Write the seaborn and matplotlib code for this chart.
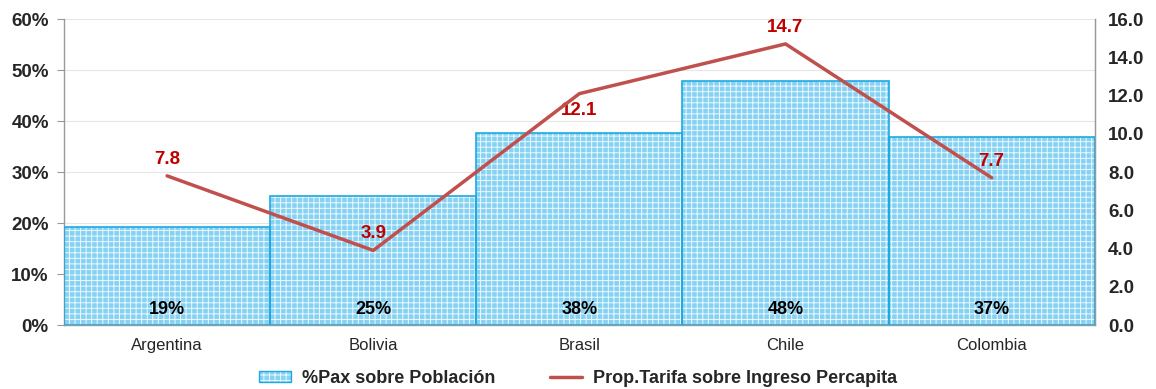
import matplotlib
matplotlib.use("Agg")
import matplotlib.pyplot as plt
import seaborn as sns
import pandas as pd
from matplotlib.patches import Patch
from matplotlib.lines import Line2D
from matplotlib.ticker import FuncFormatter
from matplotlib.colors import to_rgba

sns.set_style("white")
plt.rcParams["font.family"] = ["Liberation Sans", "DejaVu Sans"]
plt.rcParams["hatch.linewidth"] = 0.7
plt.rcParams["hatch.color"] = "white"

countries = ["Argentina", "Bolivia", "Brasil", "Chile", "Colombia"]
pax_pct = [19.2, 25.3, 37.6, 47.9, 36.9]
pax_labels = ["19%", "25%", "38%", "48%", "37%"]
tarifa = [7.8, 3.9, 12.1, 14.7, 7.7]
tarifa_label_dy = [12, 12, -12, 12, 12]

df = pd.DataFrame({"pais": countries, "pax": pax_pct, "tarifa": tarifa})

fig = plt.figure(figsize=(11.56, 3.89), dpi=100)
ax = fig.add_axes([0.0554, 0.1645, 0.8916, 0.7865])

fill_col = "#86d2f3"
edge_col = "#1fa9e1"
grid_white = to_rgba("white", 0.85)

# hatched fill: white grid over light blue
sns.barplot(data=df, x="pais", y="pax", ax=ax, width=1.0, color=fill_col,
            saturation=1, linewidth=0, hatch="+++", zorder=2)
for p in ax.patches:
    p.set_edgecolor("white")
    p._hatch_color = grid_white
    p.set_linewidth(0)
# outline on top
sns.barplot(data=df, x="pais", y="pax", ax=ax, width=1.0, fill=False,
            edgecolor=edge_col, linewidth=1.2, zorder=3)

ax.set_xlim(-0.5, len(countries) - 0.5)
ax.set_ylim(0, 60)
ax.set_yticks(range(0, 61, 10))
ax.yaxis.set_major_formatter(FuncFormatter(lambda v, p: f"{v:.0f}%"))
ax.set_xlabel("")
ax.set_ylabel("")
ax.grid(axis="y", color="#e6e6e6", linewidth=0.8, zorder=0)
ax.set_axisbelow(True)
ax.spines["top"].set_visible(False)
for s in ["left", "bottom", "right"]:
    ax.spines[s].set_color("#999999")
    ax.spines[s].set_linewidth(1.0)
ax.tick_params(axis="y", left=True, length=5, color="#999999", labelsize=13.5, pad=6)
ax.tick_params(axis="x", bottom=False, labelsize=12, pad=6)
for t in ax.get_yticklabels():
    t.set_fontweight("bold")

for i, lab in enumerate(pax_labels):
    ax.text(i, 3.1, lab, ha="center", va="center", fontsize=13,
            fontweight="bold", color="black", zorder=5)

ax2 = ax.twinx()
line_col = "#c0504d"
sns.lineplot(x=list(range(len(countries))), y=tarifa, ax=ax2, color=line_col,
             linewidth=2.5, zorder=4)
ax2.set_ylim(0, 16)
ax2.set_yticks([0, 2, 4, 6, 8, 10, 12, 14, 16])
ax2.yaxis.set_major_formatter(FuncFormatter(lambda v, p: f"{v:.1f}"))
ax2.tick_params(axis="y", right=False, labelsize=13.5, pad=6)
for t in ax2.get_yticklabels():
    t.set_fontweight("bold")
for s in ["top", "left", "bottom"]:
    ax2.spines[s].set_visible(False)
ax2.spines["right"].set_color("#999999")
ax2.set_ylabel("")

for i, v in enumerate(tarifa):
    ax2.annotate(f"{v:.1f}", (i, v), xytext=(0, tarifa_label_dy[i]),
                 textcoords="offset points", ha="center", va="center",
                 fontsize=13.5, fontweight="bold", color="#c00000")

leg_patch = Patch(facecolor=fill_col, edgecolor=edge_col, hatch="+++", linewidth=1)
handles = [leg_patch, Line2D([0], [0], color=line_col, linewidth=2.5)]
leg = fig.legend(handles, ["%Pax sobre Población", "Prop.Tarifa sobre Ingreso Percapita"],
                 loc="center", bbox_to_anchor=(0.5, 0.028), ncol=2, frameon=False,
                 prop={"weight": "bold", "size": 13}, handlelength=1.8, handleheight=0.6,
                 columnspacing=3.0, handletextpad=0.6)
for h in leg.legend_handles:
    if isinstance(h, Patch):
        h._hatch_color = grid_white

fig.savefig("out.png", dpi=100)
